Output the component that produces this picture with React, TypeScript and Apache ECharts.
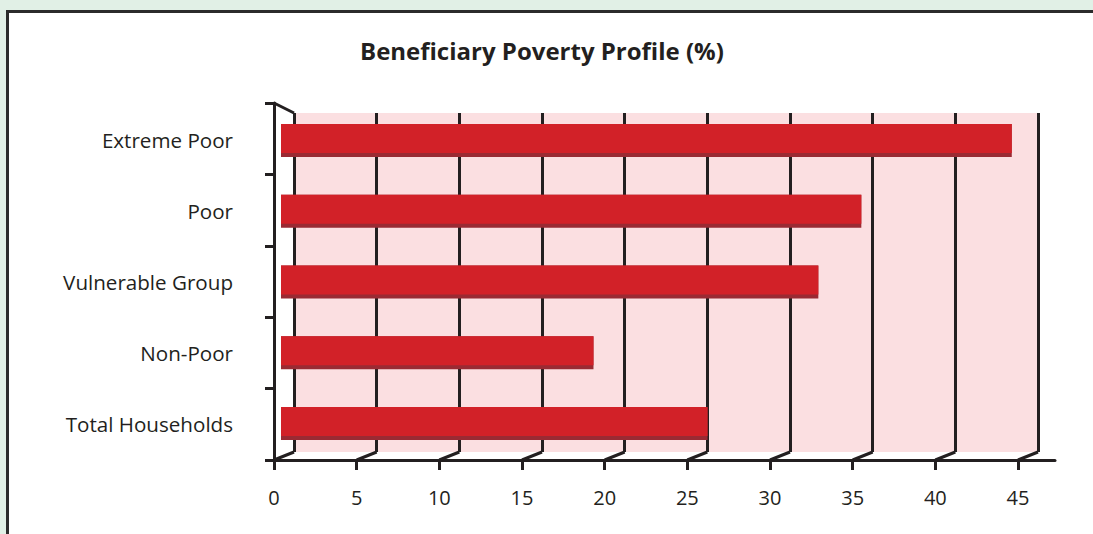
import React, { useEffect, useRef } from "react";
import * as echarts from "echarts";

const TITLE = "Beneficiary Poverty Profile (%)";
const CATEGORIES = ["Extreme Poor", "Poor", "Vulnerable Group", "Non-Poor", "Total Households"];
const VALUES = [44.2, 35.1, 32.5, 18.9, 25.8];
const TICKS = [0, 5, 10, 15, 20, 25, 30, 35, 40, 45];

const INK = "#231f20";
const RED = "#d22128";
const RED_DARK = "#9a2a33";
const PINK = "#fbdfe1";
const FONT = "'Open Sans', sans-serif";

export default function App() {
  const ref = useRef<HTMLDivElement>(null);

  useEffect(() => {
    if (!ref.current) return;
    const chart = echarts.init(ref.current, null, { renderer: "svg" });
    const unit = 744 / 45;
    const frontMax = 781 / unit;

    chart.setOption({
      animation: false,
      title: {
        text: TITLE,
        left: 355,
        top: 33,
        textStyle: { fontFamily: FONT, fontWeight: "bold", fontSize: 24, color: INK },
      },
      grid: [
        // back wall
        { left: 294, top: 113, width: 744, height: 339, show: true, backgroundColor: PINK, borderWidth: 0, containLabel: false },
        // front axes
        { left: 274, top: 103, width: 781, height: 357, containLabel: false },
        // bars
        { left: 281, top: 105.1, width: 744, height: 353.8, containLabel: false },
      ],
      xAxis: [
        {
          gridIndex: 0, type: "value", min: 0, max: 45, interval: 5,
          axisLine: { show: false }, axisTick: { show: false }, axisLabel: { show: false },
          splitLine: { show: true, lineStyle: { color: INK, width: 3 } },
        },
        {
          gridIndex: 1, type: "value", min: 0, max: frontMax,
          axisLine: { show: true, lineStyle: { color: INK, width: 3 } },
          axisTick: { show: true, length: 10, customValues: TICKS, lineStyle: { color: INK, width: 3 } },
          axisLabel: { show: true, customValues: TICKS, margin: 27, fontFamily: FONT, fontSize: 20, color: INK },
          splitLine: { show: false },
        },
        {
          gridIndex: 2, type: "value", min: 0, max: 45,
          show: false,
        },
      ],
      yAxis: [
        {
          gridIndex: 0, type: "category", data: CATEGORIES, inverse: true,
          axisLine: { show: false }, axisTick: { show: false }, axisLabel: { show: false }, splitLine: { show: false },
        },
        {
          gridIndex: 1, type: "category", data: CATEGORIES, inverse: true,
          axisLine: { show: true, lineStyle: { color: INK, width: 3 } },
          axisTick: { show: true, length: 9, lineStyle: { color: INK, width: 3 } },
          axisLabel: { show: false }, splitLine: { show: false },
        },
        {
          gridIndex: 2, type: "category", data: CATEGORIES, inverse: true,
          axisLine: { show: false }, axisTick: { show: false }, splitLine: { show: false },
          axisLabel: { show: true, margin: 48, fontFamily: FONT, fontSize: 20.6, color: INK },
        },
      ],
      series: [
        {
          type: "custom",
          xAxisIndex: 1,
          yAxisIndex: 1,
          silent: true,
          data: TICKS.map((t) => [t, 0]),
          encode: { x: 0, y: 1 },
          renderItem: (params: any, api: any) => {
            const p = api.coord([api.value(0), 0]);
            const cs = params.coordSys;
            const yb = cs.y + cs.height;
            const children: any[] = [
              {
                type: "line",
                shape: { x1: p[0], y1: yb, x2: p[0] + 20, y2: yb - 8 },
                style: { stroke: INK, lineWidth: 3 },
              },
            ];
            if (params.dataIndex === 0) {
              children.push({
                type: "line",
                shape: { x1: p[0], y1: cs.y, x2: p[0] + 20, y2: cs.y + 10 },
                style: { stroke: INK, lineWidth: 3 },
              });
            }
            return { type: "group", children };
          },
        },
        {
          type: "custom",
          xAxisIndex: 2,
          yAxisIndex: 2,
          silent: true,
          data: VALUES.map((v, i) => [v, i]),
          encode: { x: 0, y: 1 },
          renderItem: (params: any, api: any) => {
            const s = api.coord([0, api.value(1)]);
            const e = api.coord([api.value(0), api.value(1)]);
            const h = 33;
            const y0 = s[1] - h / 2;
            return {
              type: "group",
              children: [
                { type: "rect", shape: { x: s[0], y: y0, width: e[0] - s[0], height: h }, style: { fill: RED_DARK } },
                { type: "rect", shape: { x: s[0], y: y0, width: e[0] - s[0], height: h - 4 }, style: { fill: RED } },
              ],
            };
          },
        },
      ],
    });

    return () => chart.dispose();
  }, []);

  return (
    <div style={{ position: "fixed", left: 0, top: 0, width: 1093, height: 534, background: "#e1f0e6", overflow: "hidden" }}>
      <div
        style={{
          position: "absolute", left: 6, top: 10, width: 1200, height: 700,
          background: "#ffffff", borderLeft: "3px solid #2b2b2b", borderTop: "3px solid #2b2b2b",
        }}
      />
      <div ref={ref} style={{ position: "absolute", left: 0, top: 0, width: 1093, height: 534 }} />
    </div>
  );
}
